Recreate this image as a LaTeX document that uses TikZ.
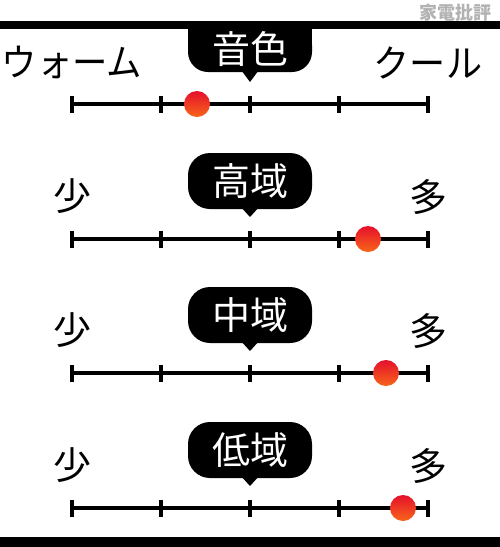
\documentclass[tikz,border=0pt]{standalone}
\usepackage{fontspec}
\setmainfont{Noto Sans CJK JP}
\definecolor{dotTop}{HTML}{E5102C}
\definecolor{dotBot}{HTML}{F8651A}
\begin{document}
\begin{tikzpicture}[x=1pt,y=-1pt,
  bubble/.style={fill=black,rounded corners=22pt,minimum width=124pt,minimum height=56pt,text=white,font=\fontsize{38}{40}\selectfont,inner sep=0pt},
  lbl/.style={font=\fontsize{38}{40}\selectfont,inner sep=0pt},
  scaleline/.style={line width=3.5pt},
  tickmark/.style={line width=4pt},
  dot/.style={circle,minimum size=26pt,inner sep=0pt,top color=dotTop,bottom color=dotBot}
]
\useasboundingbox[fill=white] (0,0) rectangle (500,547);
% bars
\fill (0,21) rectangle (500,29);
\fill (0,537) rectangle (500,547);
% watermark
\node[font=\bfseries\fontsize{18}{18}\selectfont,text=black!30,inner sep=0pt] (wm) at (455,13) {家電批評};
% section 1
\node[bubble,minimum height=47pt,rounded corners=20pt] (b1) at (250,48.5) {};
\fill (188,21) rectangle (312,50);
\node[text=white,font=\fontsize{38}{40}\selectfont,inner sep=0pt] (t1) at (250,49) {音色};
\coordinate (p1) at (250,82);
\fill ([xshift=-8pt,yshift=1pt]b1.south) -- ([xshift=8pt,yshift=1pt]b1.south) -- (p1) -- cycle;
\node[lbl] (lo1) at (72,62) {\scalebox{0.93}[1]{ウォーム}};
\node[lbl] (hi1) at (428,63) {\scalebox{0.95}[1]{クール}};
\foreach \x [count=\i] in {72,161,250,339,428} \coordinate (s1-\i) at (\x,104);
\draw[scaleline] (s1-1) -- (s1-5);
\foreach \i in {1,...,5} \draw[tickmark] ([yshift=8.5pt]s1-\i) -- ([yshift=-8.5pt]s1-\i);
\node[dot] (d1) at (197,104) {};
% sections 2-4
\foreach \L/\dx/\n/\t in {239/368/2/高域, 373/386/3/中域, 508/403/4/低域}{
  \node[bubble] (b\n) at (250,\L-58) {\t};
  \coordinate (p\n) at (250,\L-22);
  \fill ([xshift=-8pt,yshift=1pt]b\n.south) -- ([xshift=8pt,yshift=1pt]b\n.south) -- (p\n) -- cycle;
  \node[lbl] (lo\n) at (72,\L-43) {少};
  \node[lbl] (hi\n) at (428,\L-42) {多};
  \foreach \x [count=\i] in {72,161,250,339,428} \coordinate (s\n-\i) at (\x,\L);
  \draw[scaleline] (s\n-1) -- (s\n-5);
  \foreach \i in {1,...,5} \draw[tickmark] ([yshift=8.5pt]s\n-\i) -- ([yshift=-8.5pt]s\n-\i);
  \node[dot] (d\n) at (\dx,\L) {};
}
\end{tikzpicture}
\end{document}
